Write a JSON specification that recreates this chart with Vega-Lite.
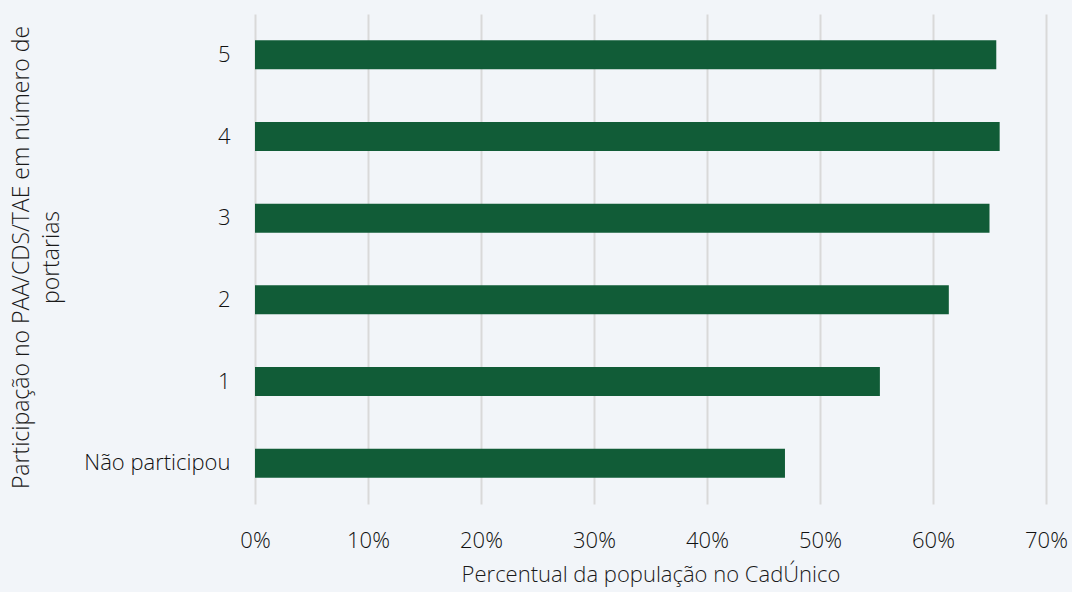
{
  "$schema": "https://vega.github.io/schema/vega-lite/v6.json",
  "width": 791,
  "height": 490,
  "autosize": {"type": "none"},
  "padding": {"left": 255, "top": 14, "right": 26, "bottom": 88},
  "background": "#f2f5f9",
  "config": {
    "view": {"stroke": null},
    "font": "Open Sans",
    "axis": {"labelFont": "Open Sans", "titleFont": "Open Sans", "labelColor": "#111111", "titleColor": "#1a1a1a", "labelFontWeight": 300, "titleFontWeight": 300}
  },
  "data": {
    "values": [
      {"grupo": "5", "pct": 0.656},
      {"grupo": "4", "pct": 0.659},
      {"grupo": "3", "pct": 0.650},
      {"grupo": "2", "pct": 0.614},
      {"grupo": "1", "pct": 0.553},
      {"grupo": "Não participou", "pct": 0.469}
    ]
  },
  "mark": {"type": "bar", "color": "#115c37", "size": 29},
  "encoding": {
    "y": {
      "field": "grupo",
      "type": "nominal",
      "sort": ["5", "4", "3", "2", "1", "Não participou"],
      "scale": {"paddingInner": 0, "paddingOuter": 0},
      "axis": {
        "title": ["Participação no PAA/CDS/TAE em número de", "portarias"],
        "titleFontSize": 23,
        "titleLineHeight": 30,
        "titleX": -222,
        "titleY": 243,
        "titleAngle": -90,
        "titleBaseline": "bottom",
        "labelFontSize": 22,
        "labelPadding": 25,
        "ticks": false,
        "domain": false,
        "grid": false
      }
    },
    "x": {
      "field": "pct",
      "type": "quantitative",
      "scale": {"domain": [0, 0.7], "nice": false},
      "axis": {
        "title": "Percentual da população no CadÚnico",
        "titleFontSize": 22,
        "titlePadding": 13,
        "values": [0, 0.1, 0.2, 0.3, 0.4, 0.5, 0.6, 0.7],
        "format": ".0%",
        "labelFontSize": 22,
        "labelFlush": false,
        "labelPadding": 26,
        "ticks": false,
        "domain": false,
        "grid": true,
        "gridColor": "#d9d9d9",
        "gridWidth": 2
      }
    }
  }
}
